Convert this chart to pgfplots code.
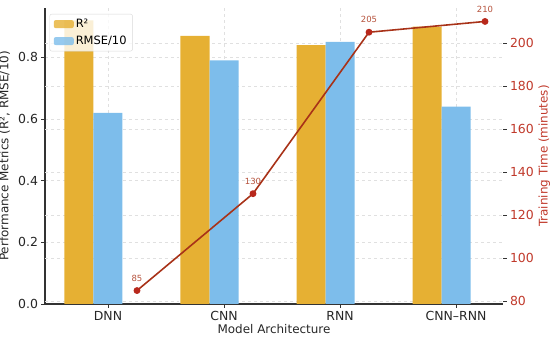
\documentclass[border=0pt]{standalone}
\usepackage{fontspec}
\setmainfont{DejaVu Sans}
\usepackage{pgfplots}
\pgfplotsset{compat=1.18}
\definecolor{rsq}{HTML}{E6B033}
\definecolor{rmse}{HTML}{7DBDEB}
\definecolor{tline}{HTML}{A83218}
\definecolor{tmark}{HTML}{B8281C}
\definecolor{rlab}{HTML}{C0392B}
\definecolor{spine}{HTML}{333333}
\begin{document}
\begin{tikzpicture}
\useasboundingbox (-45bp,-36bp) rectangle (505bp,304bp);
\begin{axis}[name=ax,
  scale only axis, width=458bp, height=296bp,
  xmin=-0.543, xmax=3.405, ymin=0, ymax=0.96,
  axis x line*=bottom, axis y line*=left,
  axis line style={spine, line width=1.1pt, -},
  xtick={0,1,2,3}, xticklabels={DNN,CNN,RNN,CNN–RNN},
  ytick={0,0.2,0.4,0.6,0.8},
  yticklabel style={/pgf/number format/.cd, fixed, fixed zerofill, precision=1},
  /pgf/number format/assume math mode=true,
  tick align=outside, major tick length=3.5bp,
  tick style={spine, line width=0.8pt},
  ticklabel style={font=\fontsize{12.5}{14}\selectfont, color=black!85},
  xmajorgrids, ymajorgrids,
  grid style={dashed, black!12, line width=0.5pt},
  extra y ticks={0.008727,0.14836,0.288,0.42764,0.56727,0.70691,0.84655},
  extra y tick labels={},
  extra y tick style={grid=major, major tick length=0pt, tick style={draw=none}},
  xlabel={Model Architecture}, ylabel={Performance Metrics (R², RMSE/10)},
  label style={font=\fontsize{12}{14}\selectfont, color=black!85},
  xlabel style={yshift=3bp},
  ylabel style={yshift=-2bp},
  legend style={at={(0.01,0.98)}, anchor=north west, draw=black!15, rounded corners=2pt,
    fill=white, fill opacity=0.8, text opacity=1, font=\fontsize{11.5}{13}\selectfont,
    inner xsep=4bp, inner ysep=3bp, row sep=3bp},
  legend cell align=left,
  legend image code/.code={\fill[#1] (0bp,-4bp) rectangle (20bp,4bp);},
]
\addplot[ybar, bar width=0.25, bar shift=0pt, fill=rsq, draw=none]
  coordinates {(-0.25,0.92) (0.75,0.87) (1.75,0.84) (2.75,0.90)};
\addlegendentry{R²}
\addplot[ybar, bar width=0.25, bar shift=0pt, fill=rmse, draw=none]
  coordinates {(0,0.62) (1,0.79) (2,0.85) (3,0.64)};
\addlegendentry{RMSE/10}
\end{axis}
\begin{axis}[
  scale only axis, width=458bp, height=296bp,
  xmin=-0.543, xmax=3.405, ymin=78.75, ymax=216.25,
  axis x line=none, axis y line*=right,
  y axis line style={draw=none},
  ytick={80,100,...,200},
  /pgf/number format/assume math mode=true,
  tick align=outside, major tick length=3.5bp,
  tick style={spine, line width=0.8pt},
  yticklabel style={font=\fontsize{12.5}{14}\selectfont, color=rlab},
  ylabel={Training Time (minutes)},
  ylabel style={font=\fontsize{12}{14}\selectfont, color=rlab, yshift=2bp},
]
\addplot[tline, line width=1.6pt, mark=*, mark size=2.6pt,
  mark options={fill=tmark, draw=tmark},
  nodes near coords,
  every node near coord/.style={font=\fontsize{8.5}{10}\selectfont, color=tline!85, anchor=south, yshift=5bp}]
  coordinates {(0.25,85) (1.25,130) (2.25,205) (3.25,210)};
\end{axis}
\end{tikzpicture}
\end{document}
